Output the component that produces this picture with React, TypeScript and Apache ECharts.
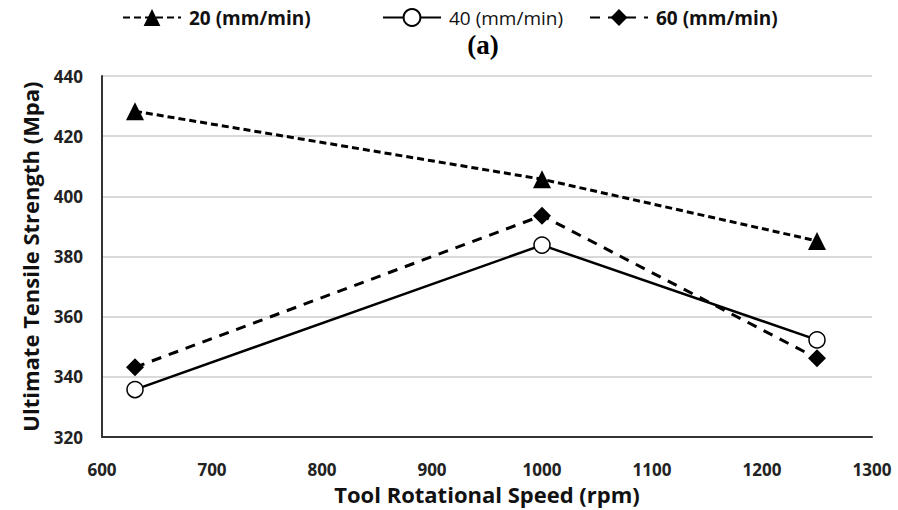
import React, { useEffect, useRef } from "react";
import * as echarts from "echarts";

const speeds = [630, 1000, 1250];
const feed20 = [428.3, 405.7, 385.2];
const feed40 = [335.8, 383.8, 352.3];
const feed60 = [343.2, 393.6, 346.2];
const seriesNames = ["20 (mm/min)", "40 (mm/min)", "60 (mm/min)"];

const FONT = "Open Sans";

export default function App() {
  const ref = useRef<HTMLDivElement>(null);
  useEffect(() => {
    if (!ref.current) return;
    const chart = echarts.init(ref.current, undefined, { renderer: "svg" });
    const pair = (ys: number[]) => speeds.map((x, i) => [x, ys[i]]);
    const legendBase = {
      top: 6,
      itemWidth: 58,
      itemHeight: 21,
      itemGap: 0,
      padding: 2,
      textStyle: { fontFamily: FONT, fontSize: 19, fontWeight: "bold" as const, color: "#111", padding: [0, 0, 0, 3] },
    };
    chart.setOption({
      animation: false,
      backgroundColor: "#fff",
      title: {
        text: "(a)",
        left: 483,
        top: 30,
        padding: 0,
        textAlign: "center",
        textStyle: { fontFamily: "Liberation Serif", fontSize: 27, fontWeight: "bold", color: "#000", lineHeight: 30 },
      },
      legend: [
        { ...legendBase, left: 120, data: [seriesNames[0]] },
        {
          ...legendBase,
          left: 380,
          data: [{ name: seriesNames[1], textStyle: { fontWeight: "normal" } }],
        },
        { ...legendBase, left: 587, data: [seriesNames[2]] },
      ],
      grid: { left: 102, right: 26, top: 76, bottom: 71 },
      xAxis: {
        type: "value",
        min: 600,
        max: 1300,
        interval: 100,
        name: "Tool Rotational Speed (rpm)",
        nameLocation: "middle",
        nameGap: 44,
        nameTextStyle: { fontFamily: FONT, fontSize: 22, fontWeight: "bold", color: "#111" },
        axisLine: { lineStyle: { color: "#333", width: 2 } },
        axisTick: { show: false },
        splitLine: { show: false },
        axisLabel: {
          fontFamily: FONT,
          fontSize: 17,
          fontWeight: "bold",
          color: "#222",
          margin: 24,
          formatter: (v: number) => String(v),
        },
      },
      yAxis: {
        type: "value",
        min: 320,
        max: 440,
        interval: 20,
        name: "Ultimate Tensile Strength (Mpa)",
        nameLocation: "middle",
        nameGap: 61,
        nameTextStyle: { fontFamily: FONT, fontSize: 22, fontWeight: "bold", color: "#111" },
        axisLine: { show: true, lineStyle: { color: "#333", width: 2 } },
        axisTick: { show: false },
        splitLine: { lineStyle: { color: "#d9d9d9", width: 2 } },
        axisLabel: { fontFamily: FONT, fontSize: 17, fontWeight: "bold", color: "#222", margin: 19 },
      },
      series: [
        {
          name: seriesNames[0],
          type: "line",
          data: pair(feed20),
          symbol: "triangle",
          symbolSize: 18,
          itemStyle: { color: "#000" },
          lineStyle: { color: "#000", width: 3, type: [7, 4] },
        },
        {
          name: seriesNames[1],
          type: "line",
          data: pair(feed40),
          symbol: "circle",
          symbolSize: 16,
          itemStyle: { color: "#fff", borderColor: "#000", borderWidth: 1.5 },
          lineStyle: { color: "#000", width: 2.5 },
        },
        {
          name: seriesNames[2],
          type: "line",
          data: pair(feed60),
          symbol: "diamond",
          symbolSize: 18,
          itemStyle: { color: "#000" },
          lineStyle: { color: "#000", width: 3, type: [10, 8] },
        },
      ],
    });
    return () => chart.dispose();
  }, []);
  return (
    <div
      ref={ref}
      style={{ position: "absolute", left: 0, top: 0, width: 898, height: 510 }}
    />
  );
}
